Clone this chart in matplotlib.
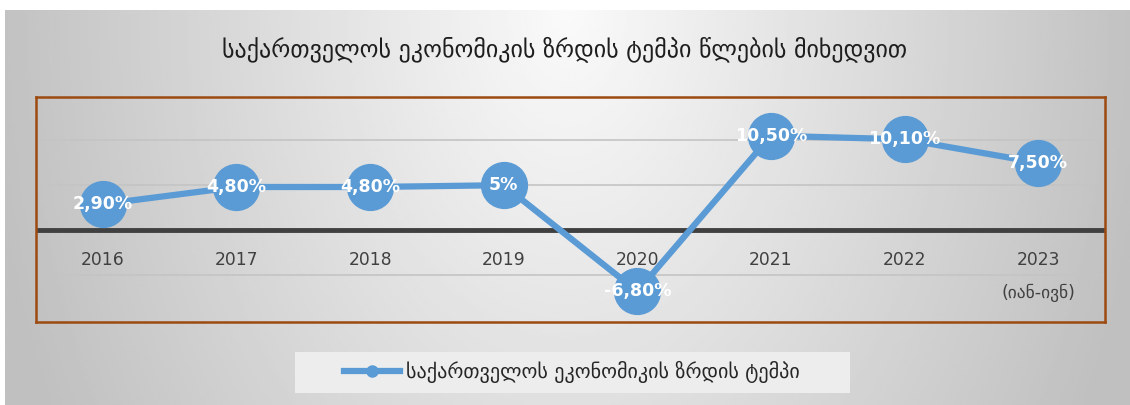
import matplotlib.pyplot as plt
from matplotlib.patches import Rectangle
import numpy as np

# data
years = ['2016', '2017', '2018', '2019', '2020', '2021', '2022', '2023']
growth = [2.9, 4.8, 4.8, 5.0, -6.8, 10.5, 10.1, 7.5]
labels = ['2,90%', '4,80%', '4,80%', '5%', '-6,80%', '10,50%', '10,10%', '7,50%']
last_note = '(იან-ივნ)'

title = 'საქართველოს ეკონომიკის ზრდის ტემპი წლების მიხედვით'
series_name = 'საქართველოს ეკონომიკის ზრდის ტემპი'

plt.rcParams['font.family'] = ['DejaVu Sans']
blue = '#5B9BD5'

fig = plt.figure(figsize=(11.3, 4.05), dpi=100)

# grey gradient background panel
bg = fig.add_axes([0, 0, 1, 1])
bg.set_axis_off()
gx = np.linspace(-1, 1, 400)
gy = np.linspace(0, 1, 150)
X, Y = np.meshgrid(gx, gy)
shade = 0.98 - 0.23 * np.clip(np.sqrt((X * 0.95) ** 2 + (Y * 0.45) ** 2), 0, 1)
bg.imshow(shade, cmap='gray', vmin=0, vmax=1, extent=[5 / 1130, 1, 0, 1 - 10 / 405],
          aspect='auto', origin='upper')
bg.set_xlim(0, 1)
bg.set_ylim(0, 1)

# legend background box
bg.add_patch(Rectangle((295 / 1130, 1 - 393 / 405), 555 / 1130, 41 / 405,
                       facecolor='#EDEDED', edgecolor='none', zorder=5))

fig.text(0.5, 1 - 49 / 405, title, ha='center', va='center', fontsize=17.3, color='#1E1E1E')

ax = fig.add_axes([36 / 1130, 1 - 322 / 405, (1105 - 36) / 1130, (322 - 97) / 405])
ax.patch.set_alpha(0)
x = np.arange(len(years))
ax.set_xlim(-0.5, len(years) - 0.5)
ax.set_ylim(-10.2, 14.8)

for g in [-5, 5, 10]:
    ax.axhline(g, color='#C4C4C4', lw=1.2, zorder=1)
ax.axhline(0, color='#404040', lw=3.5, zorder=2)

line, = ax.plot(x, growth, color=blue, lw=4.5, marker='o', markersize=33,
                markerfacecolor=blue, markeredgecolor=blue, zorder=3)

for xi, v, lab in zip(x, growth, labels):
    ax.text(xi, v, lab, ha='center', va='center', color='white', fontsize=12.5,
            fontweight='bold', zorder=4)

for xi, yr in zip(x, years):
    ax.text(xi, -3.3, yr, ha='center', va='center', color='#404040', fontsize=12.3, zorder=4)
ax.text(x[-1], -7.0, last_note, ha='center', va='center', color='#404040', fontsize=12.5, zorder=4)

ax.set_xticks([])
ax.set_yticks([])
for s in ax.spines.values():
    s.set_color('#9C4A10')
    s.set_linewidth(1.8)

leg = fig.legend(handles=[line], labels=[series_name], loc='center',
                 bbox_to_anchor=(572 / 1130, 1 - 372 / 405), fontsize=14.5,
                 frameon=False, handlelength=2.8, handletextpad=0.3,
                 borderpad=0.55, borderaxespad=0)
leg.set_zorder(6)
for h in leg.legend_handles:
    h.set_markersize(8)
    h.set_linewidth(4.5)
for t in leg.get_texts():
    t.set_color('#262626')

fig.savefig('out.png', dpi=100)
